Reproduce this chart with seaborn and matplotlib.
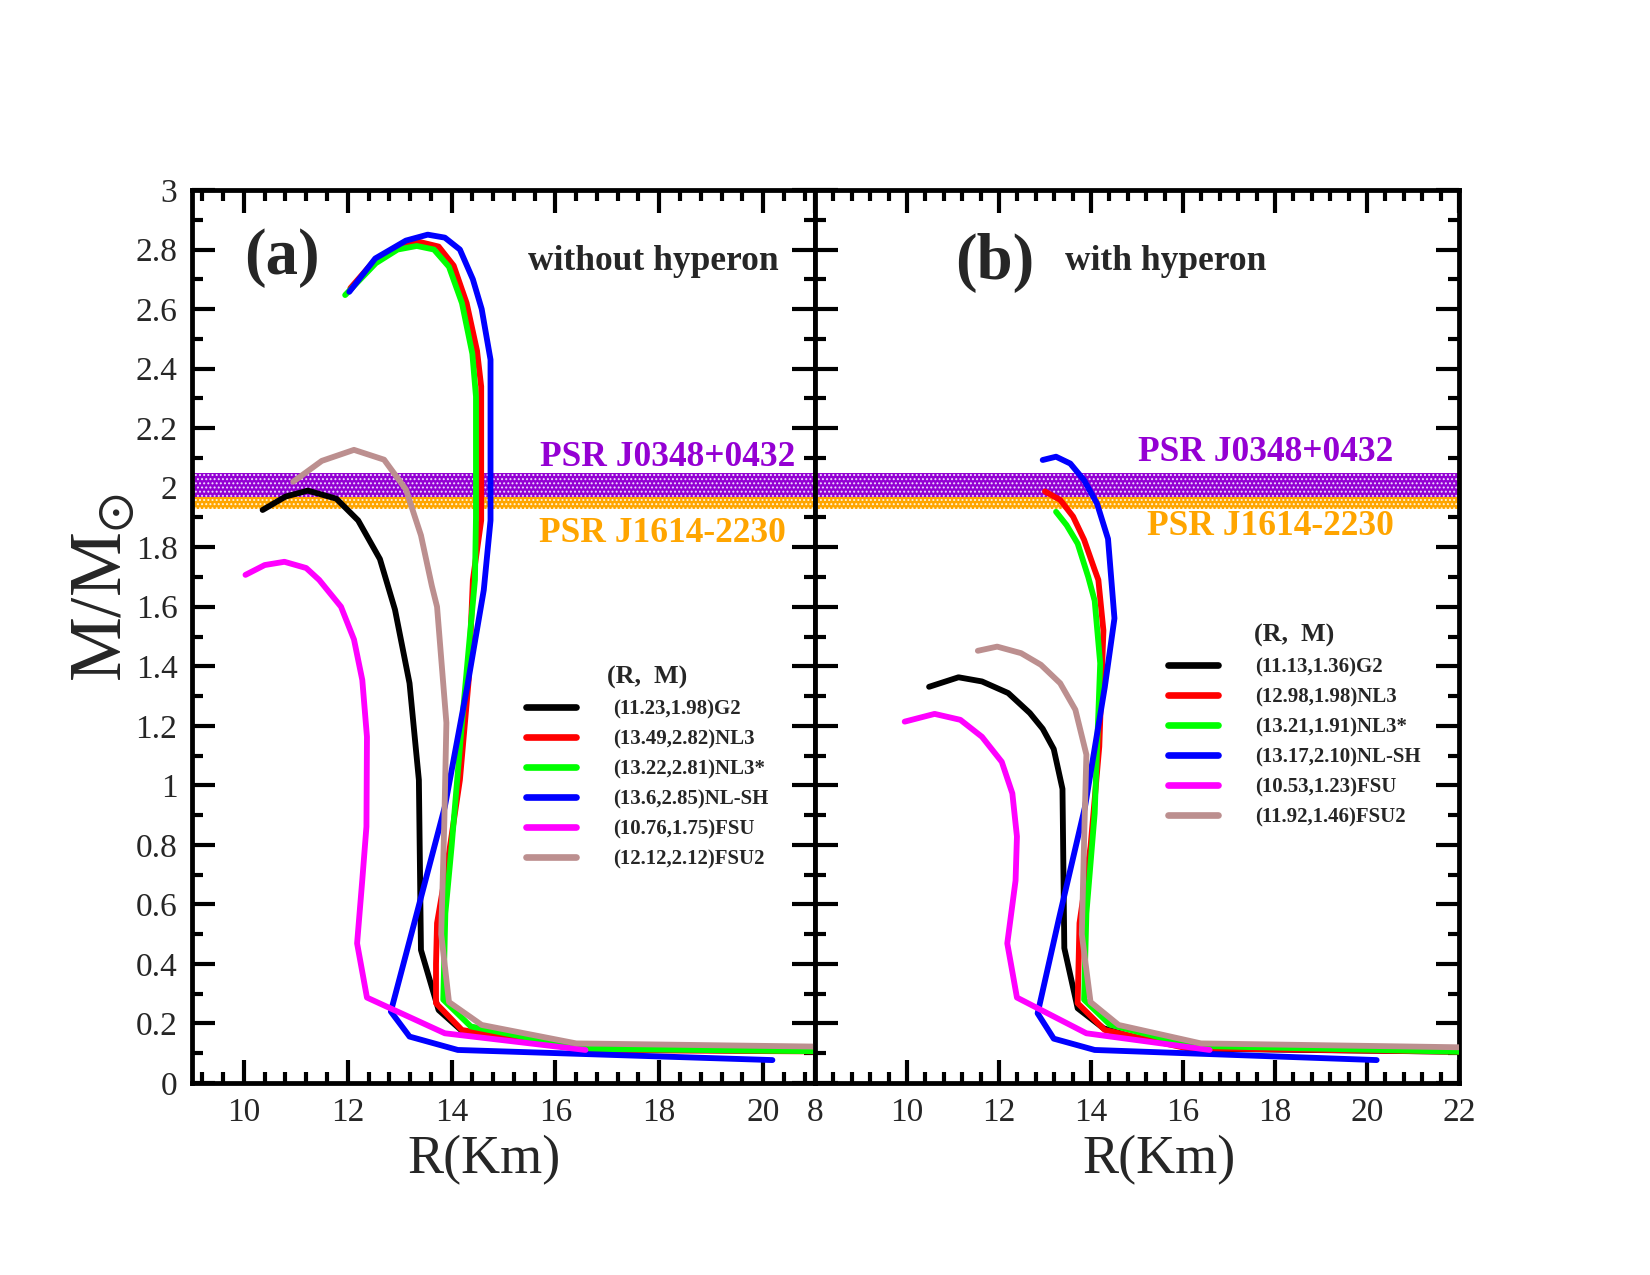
import numpy as np
import pandas as pd
import matplotlib
matplotlib.use('Agg')
import matplotlib.pyplot as plt
import seaborn as sns
from matplotlib.ticker import MultipleLocator, FuncFormatter

# ---------------- data ----------------
models = ['G2', 'NL3', 'NL3*', 'NL-SH', 'FSU', 'FSU2']
colors = ['#000000', '#ff0000', '#00ff00', '#0000ff', '#ff00ff', '#bc8f8f']
labels_a = ['(11.23,1.98)G2', '(13.49,2.82)NL3', '(13.22,2.81)NL3*',
            '(13.6,2.85)NL-SH', '(10.76,1.75)FSU', '(12.12,2.12)FSU2']
labels_b = ['(11.13,1.36)G2', '(12.98,1.98)NL3', '(13.21,1.91)NL3*',
            '(13.17,2.10)NL-SH', '(10.53,1.23)FSU', '(11.92,1.46)FSU2']

# panel (a): without hyperon
r_g2_a = [10.36, 10.8, 11.23, 11.78, 12.2, 12.62, 12.91, 13.19, 13.37, 13.41, 13.75, 14.2, 15.0, 16.5, 22.0]
m_g2_a = [1.925, 1.97, 1.99, 1.963, 1.89, 1.76, 1.59, 1.343, 1.018, 0.447, 0.245, 0.175, 0.15, 0.115, 0.105]
r_nl3_a = [12.05, 12.5, 13.0, 13.37, 13.75, 14.04, 14.29, 14.49, 14.57, 14.57, 14.41, 14.33, 14.16, 13.95, 13.72, 13.70, 13.70, 14.2, 16.54, 22.0]
m_nl3_a = [2.67, 2.76, 2.815, 2.826, 2.81, 2.746, 2.62, 2.46, 2.34, 1.89, 1.69, 1.354, 1.018, 0.772, 0.537, 0.40, 0.268, 0.178, 0.111, 0.105]
r_nl3s_a = [11.95, 12.54, 12.96, 13.33, 13.66, 13.95, 14.2, 14.4, 14.47, 14.47, 14.45, 14.2, 14.0, 13.88, 13.84, 14.37, 16.54, 22.0]
m_nl3s_a = [2.647, 2.754, 2.80, 2.812, 2.80, 2.742, 2.62, 2.45, 2.306, 1.9, 1.69, 1.21, 0.794, 0.57, 0.28, 0.19, 0.115, 0.105]
r_nlsh_a = [12.03, 12.53, 13.12, 13.54, 13.87, 14.16, 14.41, 14.58, 14.75, 14.75, 14.62, 14.3, 13.87, 13.3, 12.83, 13.19, 14.12, 20.18]
m_nlsh_a = [2.658, 2.77, 2.83, 2.85, 2.84, 2.80, 2.70, 2.60, 2.43, 1.89, 1.656, 1.33, 0.928, 0.55, 0.24, 0.156, 0.111, 0.077]
r_fsu_a = [10.03, 10.4, 10.78, 11.2, 11.45, 11.87, 12.12, 12.28, 12.37, 12.36, 12.28, 12.18, 12.37, 13.87, 16.58]
m_fsu_a = [1.707, 1.74, 1.751, 1.73, 1.69, 1.6, 1.49, 1.354, 1.163, 0.861, 0.682, 0.469, 0.287, 0.167, 0.111]
r_fsu2_a = [10.95, 11.5, 12.12, 12.7, 13.12, 13.41, 13.62, 13.72, 13.9, 13.86, 13.8, 13.95, 14.58, 16.4, 22.0]
m_fsu2_a = [2.02, 2.09, 2.127, 2.094, 1.994, 1.84, 1.67, 1.6, 1.21, 0.876, 0.5, 0.272, 0.195, 0.133, 0.12]

# panel (b): with hyperon
r_g2_b = [10.48, 11.12, 11.63, 12.2, 12.67, 12.95, 13.19, 13.38, 13.42, 13.71, 14.27, 15.0, 16.5, 22.0]
m_g2_b = [1.331, 1.363, 1.349, 1.31, 1.243, 1.19, 1.122, 0.988, 0.453, 0.251, 0.184, 0.15, 0.115, 0.105]
r_nl3_b = [13.0, 13.33, 13.61, 13.85, 14.08, 14.16, 14.27, 14.18, 13.99, 13.75, 13.71, 14.3, 16.07, 22.0]
m_nl3_b = [1.987, 1.959, 1.903, 1.825, 1.724, 1.69, 1.52, 1.13, 0.794, 0.537, 0.268, 0.178, 0.117, 0.105]
r_nl3s_b = [13.24, 13.47, 13.71, 13.94, 14.08, 14.2, 14.08, 13.9, 13.85, 14.41, 16.2, 22.0]
m_nl3s_b = [1.919, 1.874, 1.812, 1.70, 1.62, 1.41, 0.906, 0.57, 0.28, 0.196, 0.125, 0.105]
r_nlsh_b = [12.95, 13.24, 13.55, 13.85, 14.13, 14.37, 14.51, 14.3, 13.87, 13.3, 12.84, 13.19, 14.08, 20.21]
m_nlsh_b = [2.093, 2.104, 2.081, 2.025, 1.947, 1.828, 1.561, 1.33, 0.928, 0.55, 0.234, 0.149, 0.111, 0.077]
r_fsu_b = [9.95, 10.6, 11.16, 11.63, 12.06, 12.29, 12.39, 12.36, 12.18, 12.39, 13.9, 16.58]
m_fsu_b = [1.214, 1.24, 1.22, 1.163, 1.079, 0.973, 0.828, 0.68, 0.469, 0.287, 0.167, 0.111]
r_fsu2_b = [11.54, 11.96, 12.48, 12.91, 13.33, 13.66, 13.9, 13.86, 13.8, 13.99, 14.6, 16.39, 22.0]
m_fsu2_b = [1.452, 1.466, 1.444, 1.405, 1.343, 1.254, 1.103, 0.876, 0.5, 0.272, 0.195, 0.133, 0.12]

# pulsar mass bands
psr1_name, psr1_lo, psr1_hi = 'PSR J0348+0432', 1.97, 2.05
psr2_name, psr2_lo, psr2_hi = 'PSR J1614-2230', 1.93, 2.01


def build(rs, ms):
    frames = []
    for name, r, m in zip(models, rs, ms):
        frames.append(pd.DataFrame({'R': r, 'M': m, 'model': name}))
    return pd.concat(frames, ignore_index=True)


df_a = build([r_g2_a, r_nl3_a, r_nl3s_a, r_nlsh_a, r_fsu_a, r_fsu2_a],
             [m_g2_a, m_nl3_a, m_nl3s_a, m_nlsh_a, m_fsu_a, m_fsu2_a])
df_b = build([r_g2_b, r_nl3_b, r_nl3s_b, r_nlsh_b, r_fsu_b, r_fsu2_b],
             [m_g2_b, m_nl3_b, m_nl3s_b, m_nlsh_b, m_fsu_b, m_fsu2_b])

# ---------------- style ----------------
sns.set_theme(style='ticks')
plt.rcParams['font.family'] = ['Liberation Serif', 'DejaVu Serif']
plt.rcParams['mathtext.fontset'] = 'stix'
plt.rcParams['hatch.linewidth'] = 0.6

fig = plt.figure(figsize=(11, 8.5), dpi=150)
ax_a = fig.add_axes([192 / 1650, 1 - 1083 / 1275, 623 / 1650, 893 / 1275])
ax_b = fig.add_axes([815 / 1650, 1 - 1083 / 1275, 644 / 1650, 893 / 1275])

PURPLE = '#9400d3'
ORANGE = '#ffa500'
fmt = FuncFormatter(lambda v, _: f'{round(v, 2):g}')

for ax, df, labels, xlim in [(ax_a, df_a, labels_a, (9, 21)), (ax_b, df_b, labels_b, (8, 22))]:
    ax.axhspan(psr2_lo, psr2_hi, facecolor=ORANGE, edgecolor='#fff4dc', hatch='......', linewidth=0, zorder=1)
    ax.axhspan(psr1_lo, psr1_hi, facecolor=PURPLE, edgecolor='#f0dcff', hatch='......', linewidth=0, zorder=1.1)
    sns.lineplot(data=df, x='R', y='M', hue='model', hue_order=models, palette=colors,
                 sort=False, estimator=None, linewidth=2.8, legend=False, ax=ax, zorder=3)
    ax.set_xlim(*xlim)
    ax.set_ylim(0, 3)
    ax.xaxis.set_major_locator(MultipleLocator(2))
    ax.xaxis.set_minor_locator(MultipleLocator(0.4))
    ax.yaxis.set_major_locator(MultipleLocator(0.2))
    ax.yaxis.set_minor_locator(MultipleLocator(0.1))
    ax.yaxis.set_major_formatter(fmt)
    ax.tick_params(which='both', direction='in', top=True, right=True, width=2.0, color='black')
    ax.tick_params(which='major', length=11, labelsize=16, pad=7)
    ax.tick_params(which='minor', length=5.5)
    for s in ax.spines.values():
        s.set_linewidth(2.3)
        s.set_color('black')
    ax.set_xlabel('R(Km)', fontsize=26)
    ax.set_ylabel('')
    leg = ax.legend(ax.get_lines()[:6], labels, title='(R,  M)', frameon=False,
                    loc='upper left',
                    bbox_to_anchor=(0.536, 0.467) if ax is ax_a else (0.548, 0.514),
                    prop={'family': 'Liberation Serif', 'weight': 'bold', 'size': 10},
                    title_fontproperties={'family': 'Liberation Serif', 'weight': 'bold', 'size': 12.5},
                    handlelength=2.4, handletextpad=1.8, labelspacing=0.48,
                    borderpad=0, borderaxespad=0)
    for h in leg.legend_handles:
        h.set_linewidth(3.2)

ax_a.xaxis.set_label_coords(0.469, -0.058)
ax_b.xaxis.set_label_coords(0.534, -0.058)
ax_b.tick_params(labelleft=False)

ax_a.set_ylabel(r'M/M$_{\odot}$', fontsize=35)
ax_a.yaxis.set_label_coords(-0.088, 0.555)

bold = dict(fontweight='bold', ha='center', va='center', zorder=5)
ax_a.text(10.73, 2.77, '(a)', fontsize=31, **bold)
ax_a.text(17.89, 2.76, 'without hyperon', fontsize=17, **bold)
ax_a.text(18.16, 2.103, psr1_name, fontsize=17, color=PURPLE, **bold)
ax_a.text(18.07, 1.846, psr2_name, fontsize=17, color=ORANGE, **bold)

ax_b.text(11.91, 2.755, '(b)', fontsize=31, **bold)
ax_b.text(15.62, 2.76, 'with hyperon', fontsize=17, **bold)
ax_b.text(17.79, 2.118, psr1_name, fontsize=17, color=PURPLE, **bold)
ax_b.text(17.89, 1.871, psr2_name, fontsize=17, color=ORANGE, **bold)

fig.savefig('out.png', dpi=150)
